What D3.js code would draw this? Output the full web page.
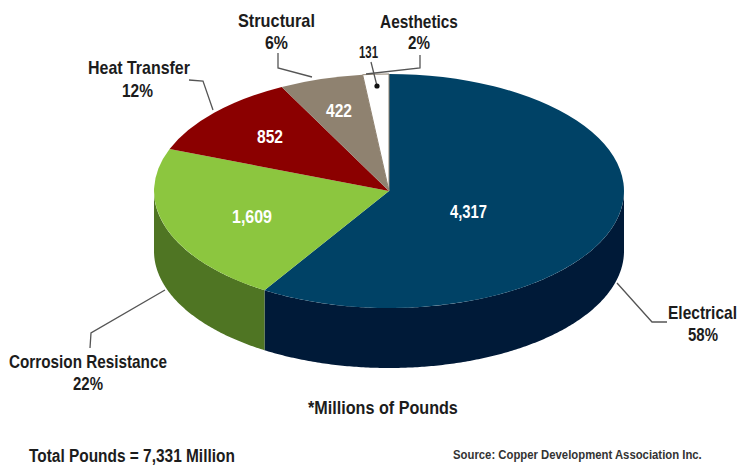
<!DOCTYPE html>
<html>
<head>
<meta charset="utf-8">
<script src="https://cdn.jsdelivr.net/npm/d3@7/dist/d3.min.js"></script>
<style>
html,body{margin:0;padding:0;background:#fff}
svg{display:block}
text{font-family:"Liberation Sans",sans-serif;font-weight:700}
</style>
</head>
<body>
<svg id="chart" width="738" height="465"></svg>
<script>
// Copper use by end market, millions of pounds
const categories = ["Electrical", "Corrosion Resistance", "Heat Transfer", "Structural", "Aesthetics"];
const pounds = [4317, 1609, 852, 422, 131];
const valueLabels = ["4,317", "1,609", "852", "422", "131"];
const shares = ["58%", "22%", "12%", "6%", "2%"];
const topColours = ["#004266", "#8cc63f", "#8b0000", "#8f8270", "#ffffff"];
const sideColours = ["#001a38", "#4f7523", "#5c0000", "#5f5648", "#cccccc"];

// Ellipse of the pie's top face and the height of its wall
const cx = 389, cy = 191, rx = 235, ry = 117, depth = 60;

const svg = d3.select("#chart");
const slices = d3.pie().sort(null).value(d => d)(pounds);

// Position on the rim for a pie angle measured clockwise from 12 o'clock
const sx = d3.scaleLinear().domain([-1, 1]).range([cx - rx, cx + rx]);
const sy = d3.scaleLinear().domain([-1, 1]).range([cy - ry, cy + ry]);
const rimX = a => sx(Math.sin(a));
const rimY = a => sy(-Math.cos(a));

// Wall: only the part of each slice facing the viewer is drawn
const wallPath = (a0, a1) => {
  const start = Math.max(a0, Math.PI / 2), end = Math.min(a1, 3 * Math.PI / 2);
  if (end <= start) return null;
  const steps = d3.range(start, end, 0.01).concat(end);
  return d3.area().x(rimX).y0(rimY).y1(a => rimY(a) + depth)(steps);
};
svg.append("g").selectAll("path").data(slices).join("path")
  .attr("d", d => wallPath(d.startAngle, d.endAngle))
  .attr("fill", (d, i) => sideColours[i]);

// Top face: a circular arc squashed into the ellipse
const arc = d3.arc().innerRadius(0).outerRadius(rx);
const face = svg.append("g")
  .attr("transform", `translate(${cx},${cy}) scale(1,${ry / rx})`);
face.selectAll("path").data(slices).join("path")
  .attr("d", arc)
  .attr("fill", (d, i) => topColours[i]);

// Thin grey edge on the white slice so it reads against the background
face.append("path").datum(slices[4])
  .attr("d", arc)
  .attr("fill", "none")
  .attr("stroke", "#8f8270")
  .attr("stroke-width", 1)
  .attr("vector-effect", "non-scaling-stroke");

// Text squeezed horizontally to a set width, as the labels are in a condensed face
const fitted = (str, x, w, y, size, fill) => {
  const t = svg.append("text").attr("font-size", size).attr("fill", fill).text(str);
  const natural = t.node().getComputedTextLength();
  t.attr("transform", `translate(${x},${y}) scale(${w / natural},1)`);
  return t;
};

// Values printed on the slices
const valueSpots = [[450, 37, 218], [232, 40, 223], [257, 26, 143], [326, 26, 117]];
valueSpots.forEach((p, i) => fitted(valueLabels[i], p[0], p[1], p[2], 18, "#fff"));

// Leader lines from the callouts to the pie
const leaders = [
  [[617, 283], [652, 322], [667, 322]],
  [[165, 290], [91, 333], [90, 348]],
  [[189, 80], [203, 81], [213, 110]],
  [[278, 53], [278, 68], [312, 77]],
  [[420, 55], [420, 68], [366, 74]],
  [[371, 62], [377, 86]]
];
svg.append("g").selectAll("path").data(leaders).join("path")
  .attr("d", d3.line())
  .attr("fill", "none").attr("stroke", "#555").attr("stroke-width", 1.3);
svg.append("circle").attr("cx", 377).attr("cy", 86).attr("r", 2.6).attr("fill", "#111");

// Category callouts: name and share, each with its own left edge and width
const nameSpots = [[668, 69, 319], [9, 158, 368], [88, 102, 74], [238, 77, 27], [380, 78, 28]];
const shareSpots = [[688, 30, 341], [73, 30, 390], [122, 31, 97], [265, 23, 49], [408, 22, 49]];
const ink = "#1c1c1c";
nameSpots.forEach((p, i) => fitted(categories[i], p[0], p[1], p[2], 18, ink));
shareSpots.forEach((p, i) => fitted(shares[i], p[0], p[1], p[2], 18, ink));
fitted(valueLabels[4], 359, 19, 58, 17, ink);

// Footer notes
fitted("*Millions of Pounds", 308, 150, 414, 19, ink);
fitted("Total Pounds = 7,331 Million", 29, 206, 462, 19, ink);
fitted("Source: Copper Development Association Inc.", 453, 249, 459, 13.5, "#333");
</script>
</body>
</html>
